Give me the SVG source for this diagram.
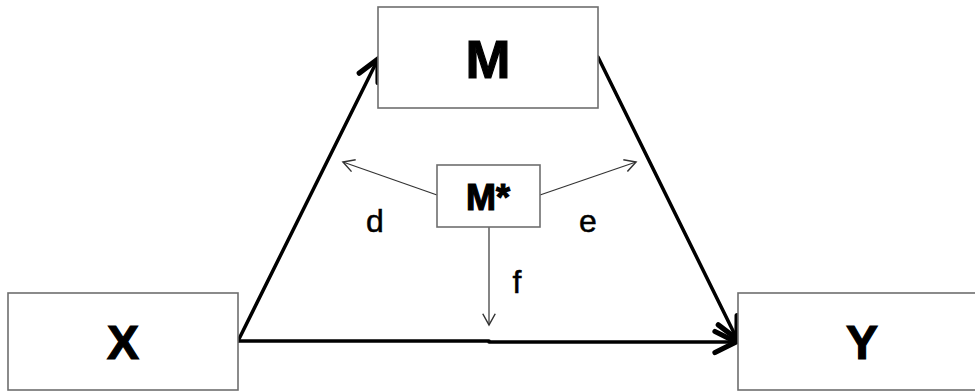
<svg xmlns="http://www.w3.org/2000/svg" width="975" height="392" viewBox="0 0 975 392">
<style>
.box{fill:#fff;stroke:#6e6e6e;stroke-width:1.6}
.big{font-family:"Liberation Sans",Arial,sans-serif;font-weight:bold;text-anchor:middle;fill:#000;stroke:#000;stroke-width:1.2}
.lab{font-family:"Liberation Sans",Arial,sans-serif;font-size:32px;text-anchor:middle;fill:#000;stroke:#000;stroke-width:0.5}
.thick{stroke:#000;stroke-width:3.5;fill:none;stroke-linecap:round}
.thin{stroke:#333;stroke-width:1.2;fill:none}
</style>
<defs>
<marker id="ah" markerUnits="userSpaceOnUse" markerWidth="30" markerHeight="30" viewBox="-16 -10 20 20" refX="0" refY="0" orient="auto" overflow="visible">
<path d="M-14,-7 L0,0 L-14,7" fill="none" stroke="#000" stroke-width="3.5" stroke-linecap="round" stroke-linejoin="miter"/>
</marker>
<marker id="ahs" markerUnits="userSpaceOnUse" markerWidth="20" markerHeight="20" viewBox="-12 -8 14 16" refX="0" refY="0" orient="auto" overflow="visible">
<path d="M-9,-5 L0,0 L-9,5" fill="none" stroke="#333" stroke-width="1.2"/>
</marker>
</defs>
<g id="connectors">
<line class="thick" x1="238" y1="341" x2="378" y2="59" marker-end="url(#ah)"/>
<line class="thick" x1="598" y1="57" x2="737" y2="339" marker-end="url(#ah)"/>
<line class="thick" x1="238" y1="341" x2="489" y2="341"/>
<line class="thick" x1="489" y1="342" x2="736" y2="342" marker-end="url(#ah)"/>
<line class="thin" x1="437" y1="195" x2="343" y2="162" marker-end="url(#ahs)"/>
<line class="thin" x1="540" y1="195" x2="636" y2="162" marker-end="url(#ahs)"/>
<line class="thin" x1="489" y1="227" x2="489" y2="325" marker-end="url(#ahs)"/>
<text class="lab" x="375" y="232">d</text>
<text class="lab" x="588" y="232">e</text>
<text class="lab" x="517" y="293">f</text>
</g>
<g id="node-M">
<rect class="box" x="378" y="7" width="220" height="101"/>
<text class="big" x="488" y="78" font-size="54">M</text>
</g>
<g id="node-Mstar">
<rect class="box" x="437" y="165" width="103" height="62"/>
<text class="big" x="488" y="210" font-size="36">M*</text>
</g>
<g id="node-X">
<rect class="box" x="8" y="293" width="230" height="97"/>
<text class="big" x="123" y="359" font-size="48">X</text>
</g>
<g id="node-Y">
<rect class="box" x="738" y="293" width="245" height="97"/>
<text class="big" x="862" y="359" font-size="48">Y</text>
</g>
</svg>
